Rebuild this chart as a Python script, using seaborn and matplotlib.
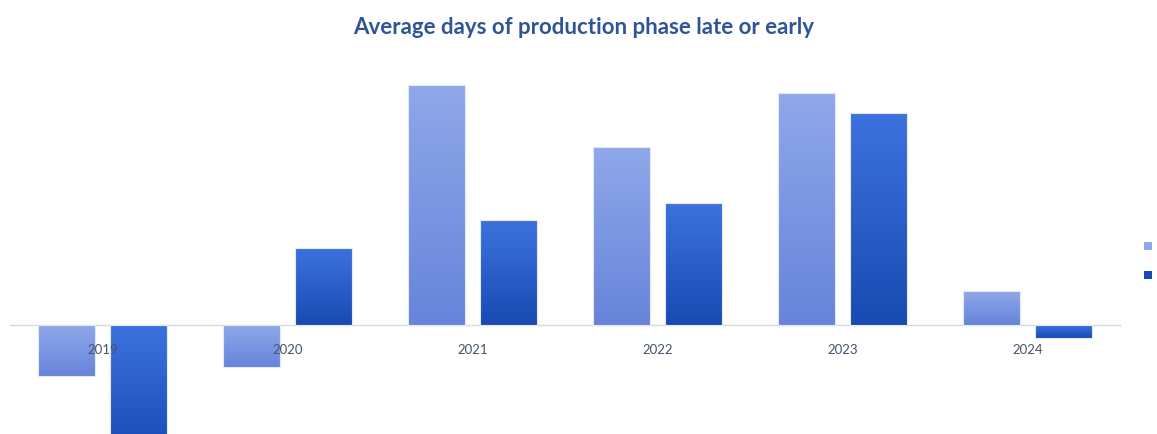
import numpy as np
import pandas as pd
import matplotlib
matplotlib.use("Agg")
import matplotlib.pyplot as plt
import seaborn as sns
from matplotlib.colors import LinearSegmentedColormap
from matplotlib.patches import Patch

years = ["2019", "2020", "2021", "2022", "2023", "2024"]
series_names = ["1st half", "2nd half"]
first_half = [-5.1, -4.2, 24.0, 17.8, 23.2, 3.4]
second_half = [-13.0, 7.7, 10.5, 12.2, 21.2, -1.3]

df = pd.DataFrame({
    "year": years * 2,
    "series": [series_names[0]] * len(years) + [series_names[1]] * len(years),
    "days": first_half + second_half,
})

sns.set_theme(style="white")
plt.rcParams["font.family"] = ["Lato", "DejaVu Sans"]

W, H = 1157, 435
fig = plt.figure(figsize=(W / 100, H / 100), dpi=100)

# axes placed in pixel terms: zero line 109 px above the bottom edge, 10 px per day
y_lo, y_hi, ppu = -15, 28, 10.0
zero_px = 109
ax_bottom = (zero_px + y_lo * ppu) / H
ax_height = (y_hi - y_lo) * ppu / H
ax = fig.add_axes([10 / W, ax_bottom, 1110 / W, ax_height])

grad = {
    series_names[0]: ("#8FA8EA", "#6784DA"),
    series_names[1]: ("#3D72DE", "#184AB2"),
}

sns.barplot(data=df, x="year", y="days", hue="series", order=years,
            hue_order=series_names, palette=[grad[s][1] for s in series_names],
            width=0.77, gap=0.2, ax=ax, legend=False, saturation=1)

# vertical gradient inside every bar
for container, name in zip(ax.containers, series_names):
    cmap = LinearSegmentedColormap.from_list(name, [grad[name][1], grad[name][0]])
    for bar in container:
        x0, y0 = bar.get_x(), bar.get_y()
        w, h = bar.get_width(), bar.get_height()
        bot, top = min(y0, y0 + h), max(y0, y0 + h)
        img = ax.imshow(np.linspace(0, 1, 256).reshape(-1, 1), cmap=cmap,
                        aspect="auto", origin="lower",
                        extent=[x0, x0 + w, bot, top], zorder=2)
        img.set_clip_path(bar)
        bar.set_facecolor("none")
        bar.set_edgecolor("#E3E9F8")
        bar.set_linewidth(0.8)
        bar.set_zorder(3)

ax.set_xlim(-0.5, len(years) - 0.5)
ax.set_ylim(y_lo, y_hi)

for s in ["top", "left", "right"]:
    ax.spines[s].set_visible(False)
ax.spines["bottom"].set_position(("data", 0))
ax.spines["bottom"].set_color("#D9D9D9")
ax.spines["bottom"].set_linewidth(1.0)
ax.spines["bottom"].set_zorder(1)
ax.set_yticks([])
ax.set_xticks(range(len(years)))
ax.set_xticklabels(years)
ax.set_xticks(np.arange(-0.5, len(years), 1.0), minor=True)
ax.tick_params(axis="x", which="major", length=0, pad=13, labelsize=9.5,
               labelcolor="#44546A")
ax.tick_params(axis="x", which="minor", length=5, width=1.0, color="#D9D9D9",
               direction="out")
# year labels sit on top of the bars
ax.xaxis.set_zorder(5)
ax.set_xlabel("")
ax.set_ylabel("")

fig.text(584 / W, 1 - 28 / H, "Average days of production phase late or early",
         ha="center", va="center", fontsize=16, fontweight="bold",
         color="#2F5597")

handles = [Patch(facecolor=grad[s][0] if i == 0 else grad[s][1], edgecolor="none")
           for i, s in enumerate(series_names)]
fig.legend(handles, series_names, loc="center left",
           bbox_to_anchor=(1133 / W, 1 - 262 / H), frameon=False,
           fontsize=8.5, handlelength=0.7, handleheight=0.7,
           handletextpad=0.6, labelspacing=1.5, labelcolor="#44546A")

fig.savefig("out.png", dpi=100)
